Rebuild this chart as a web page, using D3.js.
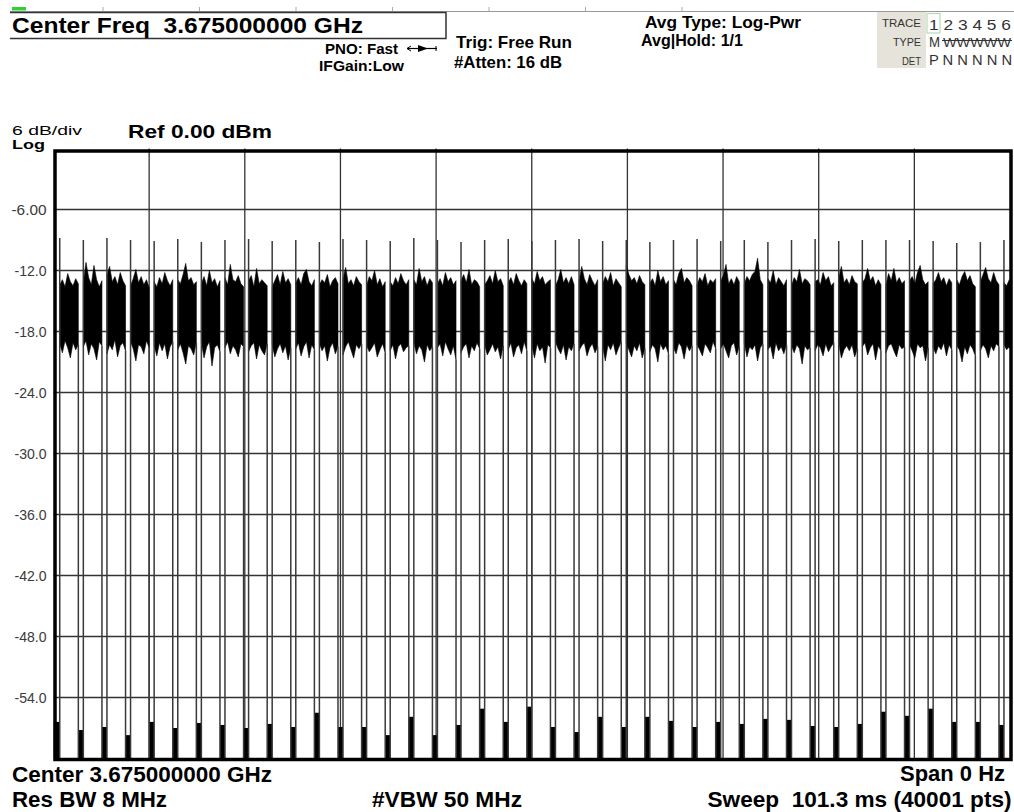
<!DOCTYPE html>
<html>
<head>
<meta charset="utf-8">
<script src="https://cdn.jsdelivr.net/npm/d3@7"></script>
<style>
  body { margin: 0; background: #fff; }
  text { font-family: "Liberation Sans", Arial, sans-serif; white-space: pre; }
</style>
</head>
<body>
<svg id="chart" width="1014" height="812"></svg>
<script>
// analyzer settings, zero span
const sweepMs = 101.3;
const yTicks = [-6, -12, -18, -24, -30, -36, -42, -48, -54];
const yTickLabels = ["-6.00", "-12.0", "-18.0", "-24.0", "-30.0", "-36.0", "-42.0", "-48.0", "-54.0"];

// pulse timing (ms)
const burstStart = [0.66, 3.16, 5.66, 8.16, 10.66, 13.16, 15.66, 18.16, 20.66, 23.16,
  25.66, 28.16, 30.66, 33.16, 35.66, 38.16, 40.66, 43.16, 45.66, 48.16,
  50.66, 53.16, 55.66, 58.16, 60.66, 63.16, 65.66, 68.16, 70.66, 73.16,
  75.66, 78.16, 80.66, 83.16, 85.66, 88.16, 90.66, 93.16, 95.66, 98.16, 100.66];
const onTimeMs = 1.97;

// level of the spike at the start of each burst (dBm)
const spikeDbm = [-8.8, -9.0, -8.8, -9.0, -9.1, -8.9, -9.2, -9.0, -8.9, -9.1,
  -9.0, -9.2, -8.9, -9.0, -9.1, -8.8, -9.0, -9.2, -9.0, -8.9,
  -9.1, -9.0, -8.9, -9.1, -9.0, -9.2, -9.0, -8.9, -9.1, -9.0,
  -9.2, -9.0, -8.9, -9.1, -9.0, -9.0, -9.0, -9.1, -9.3, -9.2, -9.0];

// upper / lower envelope of each noise burst, 8 readings per burst (dBm)
const burstHi = [
  [-13.4,-12.9,-13.6,-12.3,-13.1,-13.5,-12.8,-13.3],
  [-13.2,-11.2,-12.7,-13.4,-11.5,-12.9,-13.6,-13.0],
  [-12.4,-11.6,-13.1,-12.6,-13.4,-12.2,-13.0,-13.5],
  [-13.5,-12.8,-11.9,-13.2,-12.6,-13.4,-12.9,-13.7],
  [-13.1,-13.6,-12.7,-13.3,-12.2,-13.0,-13.5,-12.9],
  [-12.9,-13.3,-12.4,-11.3,-13.0,-12.7,-13.4,-13.1],
  [-13.3,-12.6,-13.5,-12.0,-13.2,-12.8,-13.6,-13.0],
  [-12.7,-13.4,-11.4,-12.9,-13.1,-12.5,-13.3,-13.6],
  [-13.0,-12.5,-13.6,-11.8,-13.3,-12.9,-13.2,-13.5],
  [-13.6,-13.0,-12.4,-13.4,-12.1,-13.2,-12.8,-13.4],
  [-13.2,-12.7,-13.4,-12.3,-11.9,-13.1,-13.5,-12.9],
  [-13.4,-12.9,-13.2,-12.4,-13.6,-13.0,-12.7,-13.3],
  [-12.8,-11.7,-13.3,-12.9,-13.5,-12.6,-13.1,-13.4],
  [-13.5,-12.6,-13.0,-12.0,-13.4,-12.8,-13.6,-13.1],
  [-13.1,-13.5,-12.7,-13.3,-12.3,-13.0,-13.4,-12.9],
  [-12.9,-13.4,-11.8,-13.1,-12.6,-13.5,-12.8,-13.2],
  [-13.3,-12.8,-13.5,-12.2,-13.1,-12.7,-13.4,-13.0],
  [-13.0,-12.4,-13.2,-11.9,-13.4,-12.9,-13.1,-13.6],
  [-13.4,-13.0,-12.5,-13.3,-12.0,-13.1,-12.8,-13.5],
  [-13.2,-12.7,-13.4,-12.3,-13.0,-13.5,-12.9,-13.3],
  [-12.8,-13.3,-12.1,-13.0,-12.6,-13.4,-13.1,-12.9],
  [-13.5,-12.9,-11.9,-13.2,-12.7,-13.3,-12.6,-13.4],
  [-13.1,-11.6,-12.8,-13.4,-12.4,-13.0,-13.5,-12.9],
  [-13.3,-12.6,-13.1,-12.2,-13.5,-12.8,-13.2,-13.6],
  [-11.5,-12.4,-13.0,-12.7,-13.3,-12.5,-13.1,-13.4],
  [-13.2,-12.8,-13.5,-12.0,-13.1,-12.6,-13.4,-13.0],
  [-12.9,-13.4,-12.3,-11.8,-13.2,-12.7,-13.0,-13.5],
  [-13.4,-12.7,-13.1,-12.3,-13.5,-12.9,-13.2,-12.8],
  [-13.0,-12.5,-11.4,-13.3,-12.8,-13.4,-12.6,-13.1],
  [-13.3,-12.6,-13.0,-12.4,-12.1,-10.8,-12.9,-13.4],
  [-12.8,-13.2,-12.0,-13.4,-12.7,-13.1,-13.5,-12.9],
  [-13.5,-12.7,-13.1,-11.9,-13.3,-12.8,-13.0,-13.4],
  [-13.1,-12.9,-13.4,-12.2,-13.0,-12.6,-13.5,-13.2],
  [-12.7,-11.6,-13.2,-12.8,-13.4,-12.5,-13.1,-13.3],
  [-13.2,-12.8,-11.8,-13.0,-12.6,-13.5,-12.9,-13.4],
  [-13.4,-12.3,-13.0,-11.8,-13.2,-12.7,-13.3,-13.0],
  [-13.0,-12.6,-13.3,-12.2,-11.5,-12.9,-13.4,-13.1],
  [-13.3,-12.9,-12.2,-13.1,-12.7,-13.5,-12.8,-13.2],
  [-12.9,-13.4,-12.6,-12.1,-13.0,-12.5,-13.3,-13.6],
  [-13.1,-12.4,-11.7,-12.8,-13.2,-12.2,-13.0,-13.4],
  [-13.2,-13.5,-12.9,-13.4,-13.1,-13.3,-13.0,-13.6]
];
const burstLo = [
  [-19.2,-20.1,-18.9,-19.6,-20.6,-19.1,-19.8,-19.3],
  [-19.5,-18.9,-20.3,-19.2,-19.7,-20.8,-19.0,-19.4],
  [-20.2,-19.3,-19.8,-18.8,-20.5,-19.4,-19.1,-19.9],
  [-19.0,-19.7,-20.9,-19.3,-19.5,-20.2,-18.9,-19.6],
  [-19.4,-20.4,-19.1,-19.9,-19.2,-20.7,-19.5,-19.0],
  [-19.8,-19.2,-20.1,-21.2,-19.4,-19.7,-20.3,-19.1],
  [-19.1,-20.6,-19.5,-19.0,-21.4,-19.6,-19.3,-20.0],
  [-19.6,-19.0,-20.2,-19.4,-19.8,-20.5,-19.2,-19.5],
  [-20.0,-19.4,-19.1,-20.7,-19.3,-19.9,-20.3,-19.2],
  [-19.3,-20.5,-19.7,-19.2,-20.1,-19.4,-20.8,-19.6],
  [-19.7,-19.1,-20.4,-19.5,-19.0,-20.6,-19.3,-19.8],
  [-19.2,-19.9,-19.4,-20.9,-19.6,-19.1,-20.2,-19.5],
  [-20.3,-19.5,-19.0,-19.8,-20.6,-19.3,-19.7,-19.2],
  [-19.4,-20.0,-19.6,-19.1,-20.5,-19.8,-19.2,-20.1],
  [-19.9,-19.3,-20.7,-19.5,-19.2,-20.0,-19.6,-19.4],
  [-19.1,-20.2,-19.4,-19.8,-21.0,-19.3,-19.9,-19.5],
  [-19.6,-19.2,-20.4,-19.0,-19.7,-20.3,-19.4,-20.8],
  [-20.1,-19.5,-19.2,-20.6,-19.4,-19.9,-19.1,-19.7],
  [-19.3,-20.3,-19.8,-19.2,-20.0,-19.5,-20.7,-19.4],
  [-19.8,-19.1,-20.5,-19.6,-19.3,-20.2,-19.0,-19.9],
  [-19.4,-20.6,-19.2,-19.9,-19.5,-21.1,-19.3,-19.6],
  [-19.0,-19.7,-20.2,-19.3,-20.8,-19.5,-19.9,-19.2],
  [-19.9,-19.4,-19.1,-20.4,-19.6,-19.2,-20.1,-19.5],
  [-19.5,-20.9,-19.3,-19.8,-19.1,-20.3,-19.6,-19.0],
  [-19.2,-19.8,-20.5,-19.4,-19.9,-19.1,-20.6,-19.7],
  [-20.0,-19.3,-19.7,-21.0,-19.2,-19.8,-19.4,-20.2],
  [-19.6,-20.2,-19.1,-19.5,-20.7,-19.3,-19.9,-19.4],
  [-19.3,-19.8,-20.4,-19.2,-19.6,-20.1,-19.0,-19.7],
  [-19.7,-19.2,-19.9,-20.6,-19.4,-19.1,-20.3,-19.5],
  [-19.1,-20.5,-19.5,-19.8,-19.3,-20.9,-19.6,-19.2],
  [-19.8,-19.4,-20.7,-19.1,-19.9,-19.5,-20.2,-19.3],
  [-19.4,-20.1,-19.3,-19.7,-21.2,-19.4,-19.8,-19.6],
  [-19.9,-19.3,-19.6,-20.4,-19.2,-20.0,-19.5,-19.1],
  [-19.2,-20.6,-19.8,-19.4,-19.9,-19.3,-20.5,-19.7],
  [-19.5,-19.1,-20.3,-19.6,-19.2,-20.8,-19.4,-19.9],
  [-20.1,-19.4,-19.2,-19.9,-20.5,-19.3,-19.7,-19.5],
  [-19.3,-19.9,-20.6,-19.2,-19.6,-19.4,-20.9,-19.6],
  [-19.6,-20.2,-19.4,-19.8,-19.1,-20.4,-19.3,-19.8],
  [-19.4,-19.8,-21.0,-19.5,-20.2,-19.3,-19.7,-20.4],
  [-19.9,-19.3,-19.7,-20.6,-19.4,-19.9,-19.2,-19.5],
  [-19.3,-19.8,-19.5,-20.1,-19.4,-19.7,-19.2,-19.6]
];

// noise level during the off gap before each burst (dBm)
const offLevel = [-56.4, -57.2, -56.9, -57.7, -56.4, -57.0, -56.5, -56.7, -57.0, -56.6,
  -56.9, -55.5, -56.9, -56.9, -57.7, -55.9, -57.7, -56.7, -55.1, -56.4,
  -54.9, -56.9, -57.4, -55.9, -56.9, -55.9, -56.3, -56.9, -56.4, -56.6,
  -56.1, -56.2, -56.8, -56.9, -56.6, -55.4, -55.8, -55.1, -56.4, -56.4, -56.7];

const svg = d3.select("#chart");
const plotLeft = 53.5, plotRight = 1010, plotTop = 148.5, plotBottom = 758.5;

const x = d3.scaleLinear().domain([0, sweepMs]).range([plotLeft, plotRight]);
const y = d3.scaleLinear().domain([-60, 0]).range([plotBottom, plotTop]);

function label(s, px, py, size, weight, anchor, len, fill) {
  const t = svg.append("text")
    .text(s)
    .attr("x", px)
    .attr("y", py)
    .attr("font-size", size)
    .attr("font-weight", weight || "normal")
    .attr("text-anchor", anchor || "start")
    .attr("fill", fill || "#000");
  if (len) t.attr("textLength", len).attr("lengthAdjust", "spacingAndGlyphs");
  return t;
}

// ---- header strip
svg.append("rect").attr("x", 12).attr("y", 7).attr("width", 14).attr("height", 3.5).attr("fill", "#2fd02f");
svg.append("line").attr("x1", 10).attr("x2", 1014).attr("y1", 11.5).attr("y2", 11.5)
  .attr("stroke", "#999").attr("stroke-width", 1.2);
for (let i = 0; i < 7; i++) {
  svg.append("line").attr("x1", 103 + i * 96.5).attr("x2", 103 + i * 96.5)
    .attr("y1", 7).attr("y2", 11).attr("stroke", "#aaa");
}
svg.append("path")
  .attr("d", "M10,12.5 H446 V38.5 H10")
  .attr("fill", "none").attr("stroke", "#333").attr("stroke-width", 1.5);

label("Center Freq  3.675000000 GHz", 12, 32.5, 22, "bold", "start", 351);
label("PNO: Fast", 325, 54, 14.5, "bold", "start", 73);
label("IFGain:Low", 319, 71, 14.5, "bold", "start", 85);
svg.append("path").attr("d", "M407,48.5 H437").attr("stroke", "#000").attr("stroke-width", 1.2);
svg.append("path").attr("d", "M418,45 L428,48.5 L418,52 Z").attr("fill", "#000");
svg.append("path").attr("d", "M411,46 L407,48.5 L411,51").attr("fill", "none").attr("stroke", "#000");
svg.append("path").attr("d", "M436,46 V51").attr("stroke", "#000");

label("Trig: Free Run", 456, 48, 16.5, "bold", "start", 116);
label("#Atten: 16 dB", 454, 68, 16.5, "bold", "start", 108);
label("Avg Type: Log-Pwr", 645, 28, 16.5, "bold", "start", 156);
label("Avg|Hold: 1/1", 641, 46, 16.5, "bold", "start", 102);

// trace / type / det panel
svg.append("rect").attr("x", 877).attr("y", 12).attr("width", 49).attr("height", 56).attr("fill", "#e6e4da");
label("TRACE", 921, 26.5, 11, "normal", "end", 39, "#333");
label("TYPE", 921, 46, 11, "normal", "end", 28, "#333");
label("DET", 921, 65, 11, "normal", "end", 19, "#333");
svg.append("rect").attr("x", 927).attr("y", 13.5).attr("width", 13).attr("height", 19.5)
  .attr("fill", "none").attr("stroke", "#b4dcb4").attr("stroke-width", 1.2);
label("1 2 3 4 5 6", 929, 29.5, 15, "normal", "start", 82, "#333");
label("M", 929, 46.5, 14, "normal", "start", 11, "#333");
label("WWWWW", 943, 46.5, 12, "normal", "start", 68, "#333");
svg.append("line").attr("x1", 942).attr("x2", 1012).attr("y1", 40.5).attr("y2", 40.5)
  .attr("stroke", "#333").attr("stroke-width", 1);
label("P N N N N N", 929, 65, 15, "normal", "start", 83, "#333");

// ---- scale labels above plot
label("6 dB/div", 12, 134.5, 13.5, "normal", "start", 70);
label("Log", 12, 149, 12, "bold", "start", 33);
label("Ref 0.00 dBm", 128, 138, 19, "bold", "start", 144);

// ---- grid
const grid = svg.append("g").attr("stroke", "#333").attr("stroke-width", 1.3);
grid.selectAll(".vg")
  .data(d3.range(1, 10).map(i => i * sweepMs / 10))
  .enter().append("line")
  .attr("x1", d => x(d)).attr("x2", d => x(d))
  .attr("y1", plotTop).attr("y2", plotBottom);
grid.selectAll(".hg")
  .data(yTicks)
  .enter().append("line")
  .attr("x1", plotLeft).attr("x2", plotRight)
  .attr("y1", d => y(d)).attr("y2", d => y(d));

svg.selectAll(".ylab")
  .data(yTicks)
  .enter().append("text")
  .attr("x", 46.5)
  .attr("y", d => y(d))
  .attr("dy", "0.35em")
  .attr("text-anchor", "end")
  .attr("font-size", 14.5)
  .attr("textLength", (d, i) => i === 0 ? 35 : 32)
  .attr("lengthAdjust", "spacingAndGlyphs")
  .attr("fill", "#3a3a3a")
  .text((d, i) => yTickLabels[i]);

// ---- trace
svg.append("clipPath").attr("id", "plotclip")
  .append("rect").attr("x", plotLeft).attr("y", plotTop)
  .attr("width", plotRight - plotLeft).attr("height", plotBottom - plotTop);
const trace = svg.append("g").attr("clip-path", "url(#plotclip)");

// off gaps (noise floor)
trace.selectAll(".gap")
  .data(offLevel)
  .enter().append("rect")
  .attr("x", (d, i) => x(i === 0 ? 0 : burstStart[i - 1] + onTimeMs))
  .attr("width", (d, i) => x(burstStart[i]) - x(i === 0 ? 0 : burstStart[i - 1] + onTimeMs))
  .attr("y", d => y(d))
  .attr("height", d => y(-60) - y(d))
  .attr("fill", "#000");

const area = d3.area()
  .x(d => x(d.t))
  .y0(d => y(d.lo))
  .y1(d => y(d.hi));

burstStart.forEach((t0, k) => {
  const hi = burstHi[k], lo = burstLo[k];
  const pts = hi.map((h, i) => ({ t: t0 + onTimeMs * i / (hi.length - 1), hi: h, lo: lo[i] }));
  trace.append("path").attr("d", area(pts)).attr("fill", "#000")
    .attr("stroke", "#000").attr("stroke-width", 0.6);
  // rising edge with its spike
  trace.append("line")
    .attr("x1", x(t0)).attr("x2", x(t0))
    .attr("y1", y(-60)).attr("y2", y(spikeDbm[k]))
    .attr("stroke", "#3a3a3a").attr("stroke-width", 1.5);
  // falling edge
  const t1 = t0 + onTimeMs;
  trace.append("line")
    .attr("x1", x(t1)).attr("x2", x(t1))
    .attr("y1", y(lo[lo.length - 1])).attr("y2", y(-60))
    .attr("stroke", "#3a3a3a").attr("stroke-width", 1.5);
});

// ---- frame
svg.append("rect")
  .attr("x", plotLeft + 1.5).attr("y", plotTop + 2.5)
  .attr("width", plotRight - plotLeft - 0.5).attr("height", plotBottom - plotTop - 1.5)
  .attr("fill", "none").attr("stroke", "#000").attr("stroke-width", 3.5);

// ---- footer
label("Center 3.675000000 GHz", 12, 782, 22, "bold", "start", 260);
label("Res BW 8 MHz", 12, 806.5, 22, "bold", "start", 155);
label("#VBW 50 MHz", 372, 806.5, 22, "bold", "start", 150);
label("Span 0 Hz", 1005, 781, 22, "bold", "end", 105);
label("Sweep  101.3 ms (40001 pts)", 1011.5, 806.5, 22, "bold", "end", 304);
</script>
</body>
</html>
